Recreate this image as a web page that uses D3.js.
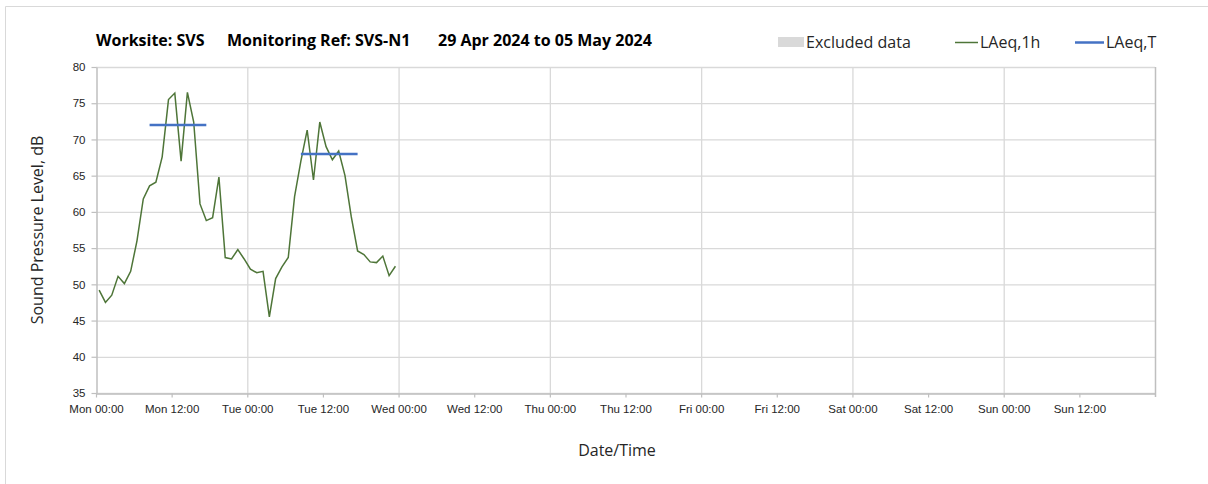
<!DOCTYPE html>
<html>
<head>
<meta charset="utf-8">
<script src="https://cdn.jsdelivr.net/npm/d3@7"></script>
<style>
  body { margin: 0; background: #fff; }
  svg { font-family: "Open Sans", "Noto Sans", sans-serif; }
</style>
</head>
<body>
<svg id="chart" width="1208" height="484"></svg>
<script>
// hourly LAeq,1h values, first one is Mon 29 Apr 00:30
const startTime = "2024-04-29 00:30";
const laeq1h = [
  49.2, 47.5, 48.5, 51.1, 50.1, 51.8, 56.0, 61.8, 63.6, 64.1, 67.6, 75.5,
  76.4, 67.0, 76.5, 72.4, 61.1, 58.8, 59.2, 64.8, 53.7, 53.5, 54.8, 53.5,
  52.1, 51.6, 51.8, 45.5, 50.8, 52.4, 53.7, 62.1, 67.0, 71.3, 64.4, 72.4,
  69.0, 67.2, 68.4, 65.0, 59.3, 54.6, 54.1, 53.1, 53.0, 53.9, 51.2, 52.5
];

// LAeq,T daytime periods
const laeqTFrom = ["2024-04-29 08:30", "2024-04-30 08:30"];
const laeqTTo = ["2024-04-29 17:30", "2024-04-30 17:30"];
const laeqTValues = [72.0, 68.0];

const yTicks = [35, 40, 45, 50, 55, 60, 65, 70, 75, 80];
const xStart = "2024-04-29 00:00";
const xEnd = "2024-05-06 00:00";

const parse = d3.timeParse("%Y-%m-%d %H:%M");
const svg = d3.select("#chart");

// outer frame
svg.append("path")
  .attr("d", "M5.5,484 V6.5 H1208")
  .attr("fill", "none")
  .attr("stroke", "#d9d9d9");

const pLeft = 96, pRight = 1155, pTop = 67, pBottom = 393;

const x = d3.scaleTime()
  .domain([parse(xStart), parse(xEnd)])
  .range([pLeft, pRight]);
const y = d3.scaleLinear()
  .domain([35, 80])
  .range([pBottom, pTop]);

const t0 = parse(startTime);
const series = laeq1h.map((v, i) => ({ t: d3.timeHour.offset(t0, i), v: v }));

// gridlines
svg.append("g")
  .selectAll("line")
  .data(yTicks)
  .enter()
  .append("line")
  .attr("x1", pLeft).attr("x2", pRight)
  .attr("y1", d => y(d) + 0.5).attr("y2", d => y(d) + 0.5)
  .attr("stroke", "#d9d9d9")
  .attr("stroke-width", 1.3);

svg.append("g")
  .selectAll("line")
  .data(d3.timeDay.range(d3.timeDay.offset(parse(xStart), 1), parse(xEnd)))
  .enter()
  .append("line")
  .attr("x1", d => x(d) + 0.5).attr("x2", d => x(d) + 0.5)
  .attr("y1", pTop).attr("y2", pBottom)
  .attr("stroke", "#d9d9d9")
  .attr("stroke-width", 1.3);

// right border
svg.append("line")
  .attr("x1", pRight + 0.5).attr("x2", pRight + 0.5)
  .attr("y1", pTop).attr("y2", pBottom + 4)
  .attr("stroke", "#bfbfbf")
  .attr("stroke-width", 1.5);

// axes
const xAxis = svg.append("g")
  .attr("transform", `translate(0,${pBottom + 0.5})`)
  .call(d3.axisBottom(x)
    .tickValues(d3.timeHour.every(12).range(parse(xStart), parse(xEnd)))
    .tickFormat(d3.timeFormat("%a %H:%M"))
    .tickSize(4)
    .tickSizeOuter(0));
xAxis.select(".domain").attr("stroke", "#bfbfbf").attr("stroke-width", 1.5);
xAxis.selectAll(".tick line").attr("stroke", "#bfbfbf").attr("stroke-width", 1.2);
xAxis.selectAll(".tick text")
  .attr("dy", "1.1em")
  .attr("fill", "#262626")
  .style("font-size", "11.5px");

const yAxis = svg.append("g")
  .attr("transform", `translate(${pLeft + 0.5},0)`)
  .call(d3.axisLeft(y)
    .tickValues(yTicks)
    .tickSize(5)
    .tickSizeOuter(0));
yAxis.select(".domain").attr("stroke", "#bfbfbf").attr("stroke-width", 1.5);
yAxis.selectAll(".tick line").attr("stroke", "#bfbfbf").attr("stroke-width", 1.2);
yAxis.selectAll(".tick text")
  .attr("x", -11)
  .attr("fill", "#262626")
  .style("font-size", "11.5px");

// LAeq,1h line
svg.append("path")
  .datum(series)
  .attr("fill", "none")
  .attr("stroke", "#4e7538")
  .attr("stroke-width", 1.5)
  .attr("d", d3.line().x(d => x(d.t)).y(d => y(d.v)));

// LAeq,T lines
svg.append("g")
  .selectAll("line")
  .data(laeqTValues)
  .enter()
  .append("line")
  .attr("x1", (d, i) => x(parse(laeqTFrom[i])))
  .attr("x2", (d, i) => x(parse(laeqTTo[i])))
  .attr("y1", d => y(d)).attr("y2", d => y(d))
  .attr("stroke", "#4472c4")
  .attr("stroke-width", 2.5);

// title
const title = svg.append("g")
  .style("font-size", "16px")
  .style("font-weight", "bold")
  .attr("fill", "#000");
title.append("text").attr("x", 96).attr("y", 46).text("Worksite: SVS");
title.append("text").attr("x", 227).attr("y", 46).text("Monitoring Ref: SVS-N1");
title.append("text").attr("x", 438).attr("y", 46).text("29 Apr 2024 to 05 May 2024");

// legend
const legend = svg.append("g").style("font-size", "16px").attr("fill", "#262626");
legend.append("rect")
  .attr("x", 778).attr("y", 37).attr("width", 26).attr("height", 10)
  .attr("fill", "#d9d9d9");
legend.append("text").attr("x", 806).attr("y", 48).text("Excluded data");
legend.append("line")
  .attr("x1", 955).attr("x2", 978).attr("y1", 42.5).attr("y2", 42.5)
  .attr("stroke", "#4e7538").attr("stroke-width", 1.5);
legend.append("text").attr("x", 980).attr("y", 48).text("LAeq,1h");
legend.append("line")
  .attr("x1", 1075).attr("x2", 1104).attr("y1", 42.5).attr("y2", 42.5)
  .attr("stroke", "#4472c4").attr("stroke-width", 2.5);
legend.append("text").attr("x", 1106).attr("y", 48).text("LAeq,T");

// axis titles
svg.append("text")
  .attr("x", 617).attr("y", 456)
  .attr("text-anchor", "middle")
  .style("font-size", "16px")
  .attr("fill", "#262626")
  .text("Date/Time");

svg.append("text")
  .attr("transform", "translate(43,230) rotate(-90)")
  .attr("text-anchor", "middle")
  .style("font-size", "16px")
  .attr("fill", "#262626")
  .text("Sound Pressure Level, dB");
</script>
</body>
</html>
